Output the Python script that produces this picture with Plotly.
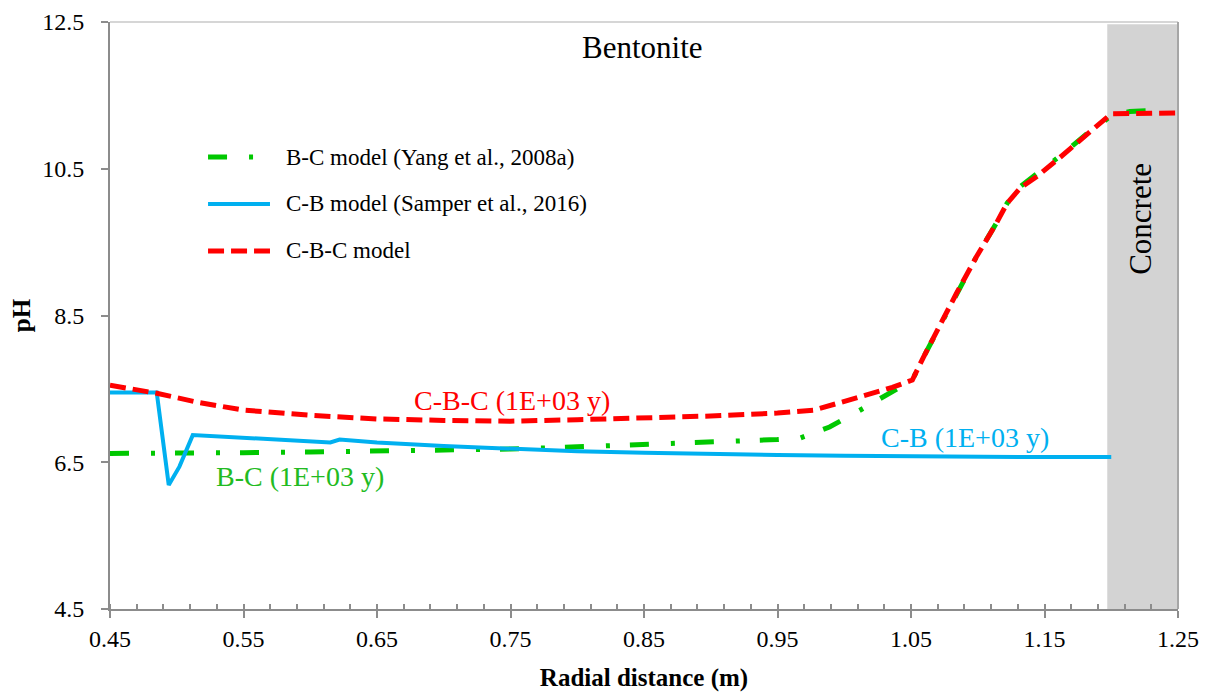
import plotly.graph_objects as go

# ---------------- data ----------------
cb_x = [0.45, 0.485, 0.494, 0.502, 0.512, 0.55, 0.60, 0.615, 0.622, 0.65, 0.70,
        0.75, 0.80, 0.85, 0.90, 0.95, 1.00, 1.05, 1.10, 1.15, 1.20]
cb_y = [7.45, 7.45, 6.19, 6.44, 6.87, 6.83, 6.78, 6.77, 6.81, 6.77, 6.72,
        6.68, 6.65, 6.63, 6.61, 6.60, 6.59, 6.58, 6.58, 6.57, 6.57]

cbc_x = [0.45, 0.485, 0.515, 0.55, 0.60, 0.65, 0.70, 0.75, 0.80, 0.85, 0.90,
         0.95, 0.977, 1.004, 1.036, 1.051, 1.059, 1.084, 1.099, 1.114, 1.122,
         1.132, 1.144, 1.162, 1.182, 1.20, 1.25]
cbc_y = [7.55, 7.44, 7.32, 7.21, 7.14, 7.09, 7.07, 7.06, 7.08, 7.10, 7.13,
         7.17, 7.21, 7.35, 7.52, 7.62, 7.92, 8.80, 9.30, 9.76, 10.03,
         10.24, 10.39, 10.66, 10.98, 11.25, 11.26]

bc_x = [0.45, 0.50, 0.55, 0.60, 0.65, 0.70, 0.75, 0.80, 0.85, 0.90, 0.95,
        0.967, 0.989, 1.010, 1.036, 1.051, 1.059, 1.084, 1.099, 1.114, 1.122,
        1.132, 1.144, 1.162, 1.182, 1.20, 1.214, 1.24]
bc_y = [6.62, 6.62, 6.63, 6.64, 6.65, 6.66, 6.68, 6.71, 6.74, 6.77, 6.81,
        6.83, 6.98, 7.19, 7.46, 7.62, 7.92, 8.80, 9.30, 9.76, 10.03,
        10.26, 10.42, 10.68, 10.98, 11.22, 11.28, 11.30]

concrete_start = 1.197
x_range = [0.45, 1.25]
y_range = [4.5, 12.5]

legend_names = ["B-C model (Yang et al., 2008a)",
                "C-B model (Samper et al., 2016)",
                "C-B-C model"]

GREEN = "#00c800"
BLUE = "#00b0f0"
RED = "#ff0000"
GREEN_DASH = "19px,22px,4px,20px"
RED_DASH = "16px,7px"
FONT = "Liberation Serif"

fig = go.Figure()
fig.add_trace(go.Scatter(x=bc_x, y=bc_y, mode="lines", name=legend_names[0],
                         line=dict(color=GREEN, width=5, dash=GREEN_DASH)))
fig.add_trace(go.Scatter(x=cb_x, y=cb_y, mode="lines", name=legend_names[1],
                         line=dict(color=BLUE, width=4)))
fig.add_trace(go.Scatter(x=cbc_x, y=cbc_y, mode="lines", name=legend_names[2],
                         line=dict(color=RED, width=5, dash=RED_DASH)))

shapes = [
    dict(type="rect", xref="x", yref="paper", x0=concrete_start, x1=x_range[1],
         y0=0, y1=0.996, fillcolor="#d3d3d3", line=dict(width=0), layer="below"),
    dict(type="line", xref="paper", yref="paper", x0=0, x1=1, y0=1, y1=1,
         line=dict(color="#c8c8c8", width=1.5)),
    dict(type="line", xref="paper", yref="paper", x0=1, x1=1, y0=0, y1=1,
         line=dict(color="#a6a6a6", width=2)),
]

# manual legend
leg_y = [0.770, 0.690, 0.610]
leg_styles = [dict(color=GREEN, width=5, dash=GREEN_DASH),
              dict(color=BLUE, width=4),
              dict(color=RED, width=5, dash=RED_DASH)]
annotations = []
for name, yy, st in zip(legend_names, leg_y, leg_styles):
    shapes.append(dict(type="line", xref="paper", yref="paper", x0=0.0918, x1=0.1498,
                       y0=yy, y1=yy, line=st))
    annotations.append(dict(text=name, xref="paper", yref="paper", x=0.1625, y=yy,
                            xanchor="left", yanchor="middle", showarrow=False,
                            font=dict(family=FONT, size=23, color="black")))

labels = [
    ("Bentonite", 0.499, 0.956, 0, 31, "black"),
    ("Concrete", 0.965, 0.664, -90, 31, "black"),
    ("C-B-C (1E+03 y)", 0.376, 0.356, 0, 28, RED),
    ("B-C (1E+03 y)", 0.178, 0.225, 0, 28, "#22bb22"),
    ("C-B (1E+03 y)", 0.8006, 0.293, 0, 28, BLUE),
]
for txt, xx, yy, ang, sz, col in labels:
    annotations.append(dict(text=txt, xref="paper", yref="paper", x=xx, y=yy,
                            xanchor="center", yanchor="middle", textangle=ang,
                            showarrow=False,
                            font=dict(family=FONT, size=sz, color=col)))

axis_common = dict(showgrid=False, zeroline=False, showline=True, automargin=False,
                   linecolor="#8c8c8c", linewidth=2, ticks="outside",
                   tickcolor="#8c8c8c", tickwidth=1.5, ticklen=7,
                   tickfont=dict(family=FONT, size=24, color="black"))

fig.update_layout(
    width=1204, height=685,
    margin=dict(l=102, r=34, t=14, b=84),
    paper_bgcolor="white", plot_bgcolor="white",
    font=dict(family=FONT),
    showlegend=False,
    shapes=shapes, annotations=annotations,
    xaxis=dict(**axis_common, range=x_range, tick0=0.45, dtick=0.1,
               tickformat=".2f", ticklabelstandoff=0,
               minor=dict(ticks="inside", dtick=0.02, tick0=0.45, ticklen=5,
                          tickcolor="#8c8c8c", tickwidth=1.5),
               title=dict(text="<b>Radial distance (m)</b>", standoff=18,
                          font=dict(family=FONT, size=25, color="black"))),
    yaxis=dict(**axis_common, range=y_range, tick0=4.5, dtick=2,
               tickformat=".1f", ticklabelstandoff=12,
               title=dict(text="<b>pH</b>", standoff=6,
                          font=dict(family=FONT, size=25, color="black"))),
)

fig.write_html("out.html")
